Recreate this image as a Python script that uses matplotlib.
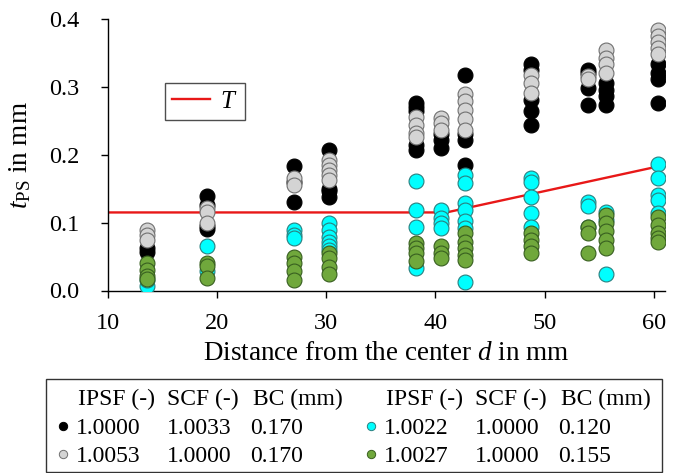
import numpy as np
import matplotlib
matplotlib.use("Agg")
import matplotlib.pyplot as plt
from matplotlib.patches import Rectangle
from matplotlib.lines import Line2D

plt.rcParams['font.family'] = ['Liberation Serif', 'DejaVu Serif']
plt.rcParams['mathtext.fontset'] = 'custom'
plt.rcParams['mathtext.rm'] = 'Liberation Serif'
plt.rcParams['mathtext.it'] = 'Liberation Serif:italic'

# measuring positions (distance from the center, mm)
d_cols = [13.6, 19.1, 27.1, 30.3, 38.2, 40.5, 42.7, 48.7, 54.0, 55.6, 60.4]

# t_PS values per column, one list per parameter set
t_black = [
    [0.057, 0.062],
    [0.139, 0.126, 0.090, 0.095],
    [0.184, 0.131, 0.160],
    [0.207, 0.146, 0.138, 0.150],
    [0.276, 0.270, 0.264, 0.207, 0.215],
    [0.222, 0.210, 0.230],
    [0.318, 0.222, 0.230, 0.185],
    [0.333, 0.325, 0.264, 0.244, 0.280],
    [0.325, 0.320, 0.298, 0.273],
    [0.296, 0.286, 0.274, 0.305],
    [0.333, 0.321, 0.311, 0.276],
]
t_gray = [
    [0.089, 0.082, 0.075],
    [0.122, 0.116, 0.100],
    [0.166, 0.156],
    [0.193, 0.185, 0.178, 0.170, 0.163],
    [0.256, 0.244, 0.232, 0.226],
    [0.254, 0.247, 0.237],
    [0.289, 0.279, 0.266, 0.252, 0.237],
    [0.318, 0.306, 0.291],
    [0.316, 0.311],
    [0.355, 0.343, 0.333, 0.321],
    [0.384, 0.375, 0.366, 0.357, 0.348],
]
t_cyan = [
    [0.007, 0.015],
    [0.066, 0.028],
    [0.089, 0.082, 0.077],
    [0.099, 0.089, 0.079, 0.072, 0.065, 0.060],
    [0.161, 0.118, 0.094, 0.033],
    [0.119, 0.107, 0.099, 0.092],
    [0.170, 0.158, 0.129, 0.119, 0.102, 0.092, 0.013],
    [0.166, 0.160, 0.138, 0.114, 0.094],
    [0.131, 0.124, 0.094],
    [0.116, 0.104, 0.025],
    [0.186, 0.166, 0.141, 0.134, 0.114],
]
t_green = [
    [0.041, 0.030, 0.022, 0.017],
    [0.040, 0.036, 0.019],
    [0.050, 0.040, 0.028, 0.016],
    [0.055, 0.048, 0.035, 0.025],
    [0.070, 0.062, 0.055, 0.043],
    [0.065, 0.055, 0.048],
    [0.084, 0.072, 0.062, 0.052, 0.045],
    [0.084, 0.075, 0.065, 0.055],
    [0.094, 0.084, 0.055],
    [0.111, 0.099, 0.087, 0.075, 0.062],
    [0.109, 0.097, 0.084, 0.077, 0.072],
]

# threshold line T
T_d = [10, 41.0, 61]
T_val = [0.115, 0.115, 0.185]

# parameter table for the legend
ipsf = ['1.0000', '1.0053', '1.0022', '1.0027']
scf = ['1.0033', '1.0000', '1.0000', '1.0000']
bc = ['0.170', '0.170', '0.120', '0.155']

faces = ['#000000', '#d4d4d4', '#00ffff', '#70a83c']
edges = ['#000000', '#707070', '#2a7f7f', '#385f20']

FS_TICK = 17.5
FS_LAB = 19.5
FS_TAB = 17

fig = plt.figure(figsize=(6.85, 4.73), dpi=100)
W, H = 685, 473
ax = fig.add_axes([107.5 / W, 1 - 290.5 / H, (665 - 107.5) / W, (290.5 - 19) / H])


def flatten(vals):
    xs, ys = [], []
    for d, col in zip(d_cols, vals):
        xs += [d] * len(col)
        ys += col
    return np.array(xs), np.array(ys)


for vals, fc, ec in zip([t_black, t_gray, t_cyan, t_green], faces, edges):
    x, y = flatten(vals)
    ax.scatter(x, y, s=115, c=fc, edgecolors=ec, linewidths=0.8, zorder=3)

ax.plot(T_d, T_val, color='#e81818', lw=1.7, zorder=2, label='$T$')

ax.set_xlim(10, 61)
ax.set_ylim(0, 0.4)
ax.set_xticks([10, 20, 30, 40, 50, 60])
ax.set_yticks([0.0, 0.1, 0.2, 0.3, 0.4])
ax.set_yticklabels(['0.0', '0.1', '0.2', '0.3', '0.4'])
for s in ['top', 'right']:
    ax.spines[s].set_visible(False)
for s in ['left', 'bottom']:
    ax.spines[s].set_linewidth(1.0)
ax.tick_params(direction='out', length=5, width=1.0, labelsize=FS_TICK)
ax.tick_params(axis='y', pad=15)
ax.tick_params(axis='x', pad=11)
ax.set_xlabel('Distance from the center $d$ in mm', fontsize=FS_LAB, labelpad=5)
ax.set_ylabel(r'$t_{\mathrm{PS}}$ in mm', fontsize=FS_LAB, labelpad=12)

leg = ax.legend(loc='upper left', bbox_to_anchor=(0.103, 0.765), borderaxespad=0,
                fontsize=18, frameon=True, fancybox=False, handlelength=1.5,
                handletextpad=0.4, borderpad=0.3)
leg.get_frame().set_edgecolor('#222222')
leg.get_frame().set_linewidth(1.0)

# parameter legend below the axes (pixel layout, y measured from top)
def fx(px):
    return px / W


def fy(py):
    return 1 - py / H


fig.add_artist(Rectangle((fx(46), fy(471.5)), fx(662) - fx(46), fy(378.5) - fy(471.5),
                         transform=fig.transFigure, fill=False, edgecolor='#333333', lw=1.0))

group_dx = [0, 308]
for g, dx in enumerate(group_dx):
    fig.text(fx(78 + dx), fy(405), 'IPSF (-)', fontsize=FS_TAB, va='baseline')
    fig.text(fx(167 + dx), fy(405), 'SCF (-)', fontsize=FS_TAB, va='baseline')
    fig.text(fx(253 + dx), fy(405), 'BC (mm)', fontsize=FS_TAB, va='baseline')
    for r in range(2):
        i = 2 * g + r
        base = [433.5, 461.5][r]
        fig.add_artist(Line2D([fx(63 + dx)], [fy(base - 8)], transform=fig.transFigure,
                              marker='o', ms=6, mfc=faces[i], mec=edges[i], mew=0.7,
                              linestyle='none'))
        fig.text(fx(76 + dx), fy(base), ipsf[i], fontsize=FS_TAB, va='baseline')
        fig.text(fx(167 + dx), fy(base), scf[i], fontsize=FS_TAB, va='baseline')
        fig.text(fx(250 + dx), fy(base), bc[i], fontsize=FS_TAB, va='baseline')

fig.savefig('out.png', dpi=100)
